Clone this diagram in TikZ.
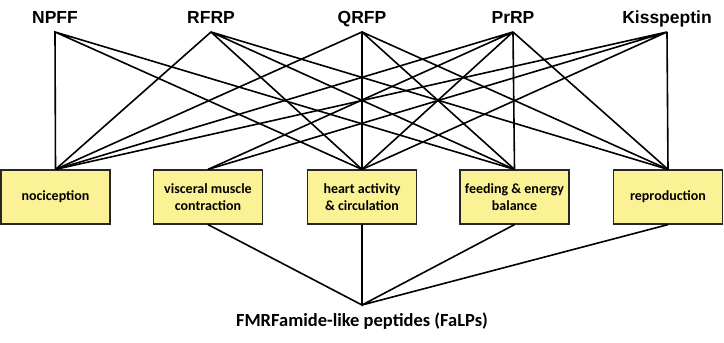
\documentclass[tikz,border=0pt]{standalone}
\usepackage{fontspec}
\setmainfont{Carlito}
\newfontfamily\labelfont{Liberation Sans}
\definecolor{FaBox}{HTML}{FAF295}
\definecolor{FaLine}{HTML}{000000}
\usepackage{tikz}
\usetikzlibrary{positioning}

\begin{document}
\begin{tikzpicture}[x=1pt, y=-1pt,
    peptide/.style={font=\labelfont\bfseries\fontsize{17.5}{19}\selectfont, anchor=south, inner xsep=0pt, inner ysep=4pt, text depth=4pt},
    func/.style={draw=FaLine!85, line width=1.2pt, fill=FaBox, font=\bfseries\fontsize{14}{17}\selectfont, align=center, minimum width=109pt, minimum height=54pt, inner sep=0pt},
    link/.style={FaLine, line width=1.6pt}]
      \useasboundingbox (0,0) rectangle (724,343);
      % peptide families
      \node[peptide] (npff) at (55,32) {NPFF};
      \node[peptide] (rfrp) at (211,32) {RFRP};
      \node[peptide] (qrfp) at (362,32) {QRFP};
      \node[peptide] (prrp) at (513,32) {PrRP};
      \node[peptide] (kiss) at (667,32) {Kisspeptin};
      % functions
      \node[func] (noci) at (55.5,197) {nociception};
      \node[func] (visc) at (208,197) {visceral muscle\\contraction};
      \node[func] (heart) at (362,197) {heart activity\\\& circulation};
      \node[func] (feed) at (514.5,197) {feeding \& energy\\balance};
      \node[func] (repro) at (668,197) {reproduction};
      \node[font=\bfseries\fontsize{18.5}{20}\selectfont, anchor=north, inner sep=0pt, text height=12.5pt] (falps) at (362,314) {FMRFamide-like peptides (FaLPs)};
      \coordinate (root) at (362,305);
      % peptide -> function
      \draw[link] (noci.north) -- (npff.south) -- (heart.north) (npff.south) -- (feed.north);
      \draw[link] (noci.north) -- (rfrp.south) -- (heart.north) (rfrp.south) -- (feed.north) (rfrp.south) -- (repro.north);
      \draw[link] (noci.north) -- (qrfp.south) -- (heart.north) (qrfp.south) -- (feed.north) (qrfp.south) -- (repro.north);
      \draw[link] (noci.north) -- (prrp.south) -- (visc.north) (prrp.south) -- (heart.north) (prrp.south) -- (feed.north) (prrp.south) -- (repro.north);
      \draw[link] (noci.north) -- (kiss.south) -- (visc.north) (kiss.south) -- (heart.north) (kiss.south) -- (repro.north);
      % functions -> FaLPs
      \draw[link] (visc.south) -- (root) -- (heart.south) (root) -- (feed.south) (root) -- (repro.south);
    \end{tikzpicture}
\end{document}
